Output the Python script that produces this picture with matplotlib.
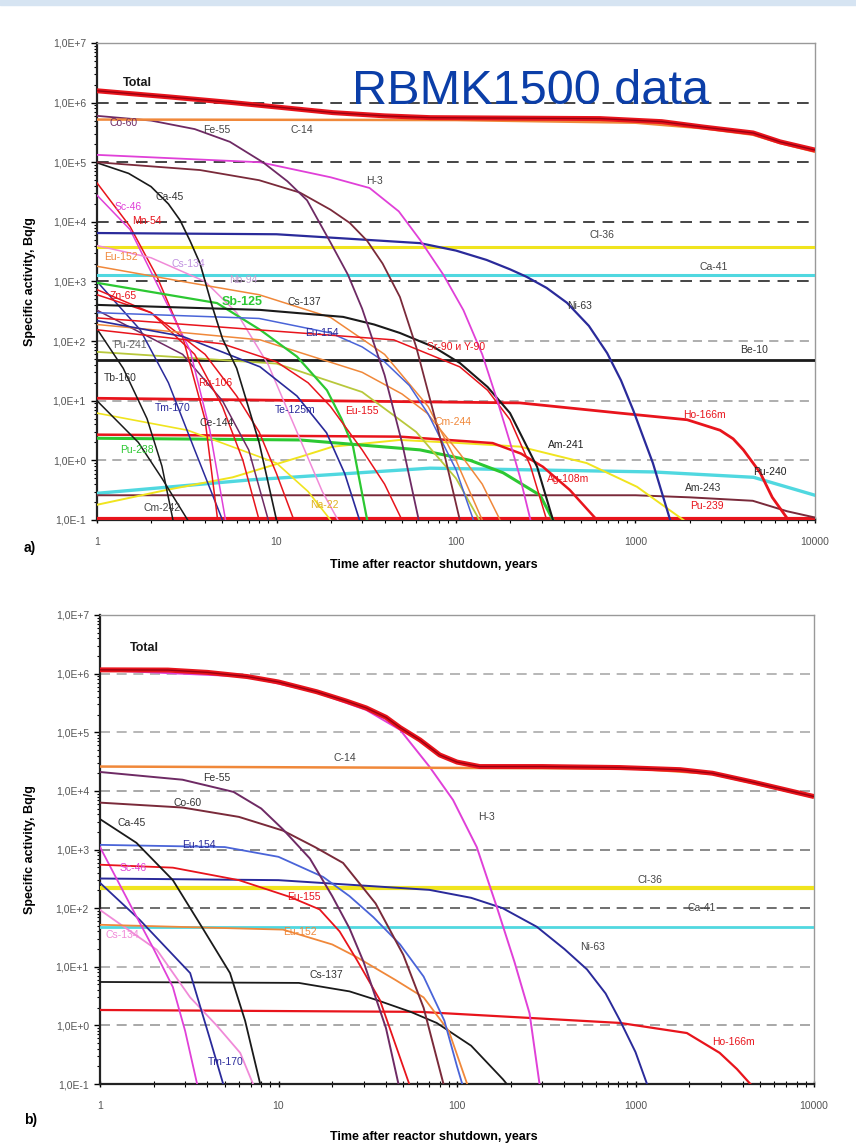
import matplotlib
matplotlib.use("Agg")
import matplotlib.pyplot as plt
from matplotlib.ticker import FixedLocator, LogLocator, NullFormatter

plt.rcParams['font.family'] = ['Liberation Sans', 'DejaVu Sans']

# ---------------- panel a) values ----------------
a_total_t = [1, 2.5, 5.7, 12, 20.6, 40, 72, 200, 633, 1400, 2377, 4520, 6383, 10000]
a_total_A = [1.58e6, 1.25e6, 1.0e6, 8.0e5, 6.8e5, 6.0e5, 5.6e5, 5.5e5, 5.4e5, 4.8e5,
             3.9e5, 3.1e5, 2.2e5, 1.6e5]
a_c14_t = [1, 100, 1000, 2400, 4500, 6400, 10000]
a_c14_A = [5.2e5, 5.1e5, 4.6e5, 3.7e5, 2.9e5, 2.1e5, 1.5e5]
a_fe55_t = [1, 2, 3.5, 5.5, 8.4, 11.5, 14.8, 20, 25, 30, 40, 50, 62]
a_fe55_A = [6e5, 5e5, 3.6e5, 2.2e5, 1e5, 4.8e4, 2.3e4, 4.5e3, 1.3e3, 3.5e2, 27, 2, 0.1]
a_h3_t = [1, 8.1, 20, 33, 48, 63, 85, 110, 140, 170, 200, 227, 260]
a_h3_A = [1.33e5, 1.0e5, 5.6e4, 3.7e4, 1.5e4, 5e3, 1.3e3, 330, 60, 10, 2, 0.53, 0.1]
a_co60_t = [1, 3.75, 8, 13.5, 20, 25.6, 32, 39, 48.7, 60, 72, 85, 105]
a_co60_A = [1e5, 7.4e4, 5e4, 3.1e4, 1.6e4, 9.6e3, 4.8e3, 2e3, 5.5e2, 80, 10, 1.5, 0.1]
a_ca45_t = [1, 1.5, 2, 2.5, 2.9, 3.3, 3.75, 4.4, 5, 6, 8, 10]
a_ca45_A = [9.8e4, 6.5e4, 3.9e4, 2.0e4, 1.07e4, 4.8e3, 2e3, 370, 110, 35, 2, 0.1]
a_ni63_t = [1, 10, 63, 100, 148, 200, 247, 320, 415, 550, 695, 830, 970, 1250, 1560]
a_ni63_A = [6.5e3, 6.2e3, 4.4e3, 3.3e3, 2.3e3, 1.6e3, 1.2e3, 780, 440, 180, 63, 22,
            7, 0.9, 0.1]
a_cl36_A = 3.8e3
a_ca41_A = 1.3e3
a_be10_A = 48
a_pu239_A = 0.105
a_cs137_t = [1, 8.1, 23.5, 35, 48.7, 75, 105, 150, 200, 283, 347]
a_cs137_A = [405, 334, 255, 190, 137, 80, 43, 17, 6.2, 0.78, 0.1]
a_ho166m_t = [1, 227, 820, 1940, 2960, 3500, 3990, 4950, 5780, 6950]
a_ho166m_A = [11, 9.2, 6.2, 4.8, 3.2, 2.3, 1.5, 0.62, 0.24, 0.11]
a_am241_t = [1, 2.45, 5.7, 13.5, 20.6, 48.7, 105, 227, 535, 1020, 1850]
a_am241_A = [0.18, 0.32, 0.52, 1.14, 1.7, 2.2, 1.95, 1.7, 0.9, 0.36, 0.1]
a_pu240_t = [1, 7.1, 71.6, 1250, 4550, 10000]
a_pu240_A = [0.28, 0.47, 0.74, 0.64, 0.52, 0.26]
a_am243_t = [1, 1000, 2000, 4500, 7000, 10000]
a_am243_A = [0.26, 0.26, 0.24, 0.21, 0.14, 0.11]
a_ag108m_t = [1, 48.7, 160, 230, 305, 430, 610]
a_ag108m_A = [2.7, 2.5, 1.95, 1.3, 0.78, 0.32, 0.1]
a_pu238_t = [1, 13.5, 63, 120, 183, 294, 347]
a_pu238_A = [2.35, 2.2, 1.5, 1.0, 0.62, 0.26, 0.1]
a_sr90_t = [1, 45, 105, 150, 200, 260, 320]
a_sr90_A = [245, 105, 37, 15, 4.8, 0.8, 0.1]
a_eu154_t = [1, 8, 20, 30, 40, 55, 70, 100, 125]
a_eu154_A = [300, 240, 137, 80, 45, 18, 6, 0.7, 0.1]
a_eu155_t = [1, 5, 10, 15, 20, 30, 40, 50]
a_eu155_A = [155, 90, 45, 20, 8, 1.5, 0.4, 0.1]
a_sb125_t = [1, 4.66, 8.1, 13, 19.1, 23, 26.7, 32]
a_sb125_A = [950, 435, 155, 55, 15, 5, 1.7, 0.1]
a_te125m_t = [1, 3, 8.1, 13, 19, 24, 29]
a_te125m_A = [220, 120, 37, 12, 2.9, 0.6, 0.1]
a_cm244_t = [1, 8.1, 30, 50, 69, 105, 140, 176]
a_cm244_A = [190, 105, 30, 13, 6.2, 1.3, 0.4, 0.1]
a_eu152_t = [1, 3, 8, 20, 40, 70, 100, 140]
a_eu152_A = [1.8e3, 1e3, 600, 250, 60, 8, 1, 0.1]
a_cs134_t = [1, 2, 4, 6, 9, 13, 18, 22]
a_cs134_A = [4e3, 2.5e3, 1e3, 300, 40, 3, 0.3, 0.1]
a_sc46_t = [1, 1.53, 2.24, 3.3, 4.25, 5.2]
a_sc46_A = [2.8e4, 7.4e3, 730, 70, 3.2, 0.1]
a_mn54_t = [1, 1.53, 2.16, 3.0, 4.0, 4.7]
a_mn54_A = [4.5e4, 8.3e3, 1.2e3, 118, 4.8, 0.1]
a_zn65_t = [1, 2, 3.5, 5, 6.5, 8]
a_zn65_A = [730, 300, 60, 8, 1, 0.1]
a_tb160_t = [1, 1.4, 1.9, 2.3, 2.65]
a_tb160_A = [160, 35, 5, 0.8, 0.1]
a_tm170_t = [1, 1.74, 2.5, 3.5, 5.0]
a_tm170_A = [1e3, 155, 20, 1.5, 0.1]
a_ce144_t = [1, 3, 5, 7, 9]
a_ce144_A = [330, 60, 10, 1.5, 0.1]
a_ru106_t = [1, 2, 4, 6, 8, 10, 12.5]
a_ru106_A = [600, 300, 60, 12, 3, 0.6, 0.1]
a_cm242_t = [1, 1.7, 2.3, 3.2]
a_cm242_A = [10, 2, 0.5, 0.1]
a_na22_t = [1, 3.2, 10, 15, 20]
a_na22_A = [6.2, 3.2, 0.9, 0.3, 0.1]
a_pu241_t = [1, 10, 30, 60, 100, 135]
a_pu241_A = [66, 42, 14, 3, 0.5, 0.1]

# ---------------- panel b) values ----------------
b_total_t = [1, 2.4, 4, 6.7, 10, 16.4, 24, 31, 40, 48, 62, 80, 100, 134, 300, 820,
             1780, 2700, 4600, 10000]
b_total_A = [1.16e6, 1.15e6, 1.05e6, 8.9e5, 7.2e5, 4.9e5, 3.4e5, 2.6e5, 1.8e5, 1.2e5,
             7.4e4, 4.1e4, 3.1e4, 2.6e4, 2.6e4, 2.5e4, 2.3e4, 2.0e4, 1.4e4, 8e3]
b_c14_t = [1, 1000, 2700, 4600, 10000]
b_c14_A = [2.6e4, 2.4e4, 1.95e4, 1.35e4, 7.8e3]
b_h3_t = [1, 6.7, 16, 31, 48, 70, 95, 129, 167, 210, 255, 290]
b_h3_A = [1.15e6, 8.9e5, 4.9e5, 2.4e5, 1.1e5, 2.6e4, 7e3, 1.1e3, 105, 12, 1.6, 0.1]
b_fe55_t = [1, 2.9, 5.6, 8, 10.6, 15, 20, 25, 30, 40, 47]
b_fe55_A = [2.1e4, 1.55e4, 9.6e3, 5e3, 2.2e3, 700, 160, 45, 12, 0.9, 0.1]
b_co60_t = [1, 2.9, 6, 10.6, 16, 23, 35, 50, 65, 84]
b_co60_A = [6.3e3, 5.2e3, 3.6e3, 2.1e3, 1.1e3, 590, 120, 16, 2, 0.1]
b_ca45_t = [1, 1.6, 2.56, 3.8, 5.35, 6.5, 7.9]
b_ca45_A = [3.3e3, 1.3e3, 300, 43, 7.8, 1.2, 0.1]
b_eu154_t = [1, 5, 10, 17.8, 25, 34, 48, 65, 85, 100, 107]
b_eu154_A = [1.2e3, 1.1e3, 750, 340, 160, 70, 24, 6.8, 1.2, 0.2, 0.1]
b_eu155_t = [1, 2.56, 6, 11.6, 17, 22, 27.5, 37, 54]
b_eu155_A = [550, 490, 300, 155, 95, 40, 13, 2.7, 0.1]
b_sc46_t = [1, 1.53, 2.0, 2.56, 3.0, 3.5]
b_sc46_A = [1.1e3, 93, 20, 4.5, 0.8, 0.1]
b_ni63_t = [1, 10, 70, 120, 180, 280, 400, 535, 680, 820, 1000, 1160]
b_ni63_A = [320, 300, 205, 150, 100, 48, 20, 9, 3.5, 1.2, 0.35, 0.1]
b_cl36_A = 220
b_ca41_A = 48
b_eu152_t = [1, 10.6, 20, 27, 45, 65, 90, 114]
b_eu152_A = [52, 43, 24, 15, 6, 3, 0.8, 0.1]
b_cs134_t = [1, 2.08, 3.2, 4.5, 6.1, 7.2]
b_cs134_A = [93, 19.5, 3, 1.0, 0.34, 0.1]
b_cs137_t = [1, 13, 25, 35.6, 55, 77, 120, 181, 190]
b_cs137_A = [5.5, 5.3, 3.8, 2.7, 1.7, 1.1, 0.45, 0.12, 0.1]
b_ho166m_t = [1, 62, 820, 1940, 2960, 3700, 4400]
b_ho166m_A = [1.83, 1.7, 1.1, 0.74, 0.34, 0.18, 0.1]
b_tm170_t = [1, 1.67, 3.2, 4.1, 4.9]
b_tm170_A = [270, 63, 7.8, 0.63, 0.1]

decades = [1e-1, 1e0, 1e1, 1e2, 1e3, 1e4, 1e5, 1e6, 1e7]
decade_labels = ['1,0E-1', '1,0E+0', '1,0E+1', '1,0E+2', '1,0E+3', '1,0E+4',
                 '1,0E+5', '1,0E+6', '1,0E+7']
x_ticks = [1, 10, 100, 1000, 10000]
x_labels = ['1', '10', '100', '1000', '10000']

RED = '#e8141c'
MAG = '#e040d8'
PINK = '#f08ad8'
NAVY = '#2a2a9a'
BLUE = '#4a64d8'
BLK = '#1a1a1a'
GRN = '#2cc832'
ORG = '#f0883a'
YEL = '#f0e41e'
CYN = '#50d8e0'
OLV = '#b8c83c'
PUR = '#6e2a64'
BRN = '#7a2a3a'
XMAX = 10000

W, H = 856, 1145
BOX_A = (97, 815, 43, 520)
BOX_B = (100, 814, 615, 1084)


def flat(v):
    return [1, XMAX], [v, v]


curves_a = [
    (flat(a_cl36_A), YEL, 2.2),
    (flat(a_ca41_A), CYN, 2.2),
    (flat(a_be10_A), BLK, 2.0),
    (flat(a_pu239_A), RED, 3.0),
    ((a_pu240_t, a_pu240_A), CYN, 2.4),
    ((a_am243_t, a_am243_A), BRN, 1.4),
    ((a_am241_t, a_am241_A), YEL, 1.4),
    ((a_ag108m_t, a_ag108m_A), RED, 1.8),
    ((a_pu238_t, a_pu238_A), GRN, 2.2),
    ((a_ho166m_t, a_ho166m_A), RED, 2.0),
    ((a_na22_t, a_na22_A), YEL, 1.2),
    ((a_pu241_t, a_pu241_A), OLV, 1.3),
    ((a_cm242_t, a_cm242_A), BLK, 1.1),
    ((a_tb160_t, a_tb160_A), BLK, 1.1),
    ((a_tm170_t, a_tm170_A), NAVY, 1.1),
    ((a_ce144_t, a_ce144_A), PUR, 1.1),
    ((a_ru106_t, a_ru106_A), RED, 1.1),
    ((a_zn65_t, a_zn65_A), RED, 1.1),
    ((a_mn54_t, a_mn54_A), RED, 1.1),
    ((a_sc46_t, a_sc46_A), MAG, 1.1),
    ((a_cs134_t, a_cs134_A), PINK, 1.1),
    ((a_eu152_t, a_eu152_A), ORG, 1.1),
    ((a_cm244_t, a_cm244_A), ORG, 1.1),
    ((a_te125m_t, a_te125m_A), NAVY, 1.2),
    ((a_sb125_t, a_sb125_A), GRN, 1.6),
    ((a_eu155_t, a_eu155_A), RED, 1.1),
    ((a_eu154_t, a_eu154_A), BLUE, 1.1),
    ((a_sr90_t, a_sr90_A), RED, 1.1),
    ((a_cs137_t, a_cs137_A), BLK, 1.5),
    ((a_ni63_t, a_ni63_A), NAVY, 1.6),
    ((a_ca45_t, a_ca45_A), BLK, 1.2),
    ((a_co60_t, a_co60_A), BRN, 1.3),
    ((a_h3_t, a_h3_A), MAG, 1.3),
    ((a_fe55_t, a_fe55_A), PUR, 1.3),
    ((a_c14_t, a_c14_A), ORG, 1.8),
]

curves_b = [
    (flat(b_cl36_A), YEL, 3.0),
    (flat(b_ca41_A), CYN, 2.0),
    ((b_ho166m_t, b_ho166m_A), RED, 1.6),
    ((b_cs137_t, b_cs137_A), BLK, 1.3),
    ((b_cs134_t, b_cs134_A), PINK, 1.3),
    ((b_eu152_t, b_eu152_A), ORG, 1.3),
    ((b_ni63_t, b_ni63_A), NAVY, 1.4),
    ((b_tm170_t, b_tm170_A), NAVY, 1.3),
    ((b_sc46_t, b_sc46_A), MAG, 1.3),
    ((b_eu155_t, b_eu155_A), RED, 1.3),
    ((b_eu154_t, b_eu154_A), BLUE, 1.3),
    ((b_ca45_t, b_ca45_A), BLK, 1.3),
    ((b_co60_t, b_co60_A), BRN, 1.4),
    ((b_fe55_t, b_fe55_A), PUR, 1.4),
    ((b_h3_t, b_h3_A), MAG, 1.4),
    ((b_c14_t, b_c14_A), ORG, 1.8),
]

labels_a = [
    ('Total', 123, 83, BLK, True),
    ('Fe-55', 203, 130, '#444', False), ('C-14', 291, 130, '#444', False),
    ('Co-60', 110, 123, PUR, False), ('H-3', 366, 181, '#444', False),
    ('Ca-45', 155, 197, '#333', False), ('Sc-46', 115, 207, MAG, False),
    ('Mn-54', 132, 221, RED, False), ('Cl-36', 590, 235, '#444', False),
    ('Ca-41', 700, 267, '#444', False), ('Eu-152', 104, 257, ORG, False),
    ('Cs-134', 172, 264, '#c090e0', False), ('Nb-94', 229, 280, '#c0a0d0', False),
    ('Zn-65', 110, 296, RED, False), ('Sb-125', 222, 302, GRN, True),
    ('Cs-137', 287, 302, '#333', False), ('Ni-63', 567, 306, '#333', False),
    ('Eu-154', 305, 333, NAVY, False), ('Pu-241', 113, 345, '#666', False),
    ('Sr-90 и Y-90', 427, 347, RED, False), ('Be-10', 740, 350, '#333', False),
    ('Tb-160', 104, 378, '#333', False), ('Ru-106', 198, 383, RED, False),
    ('Tm-170', 155, 408, NAVY, False), ('Ce-144', 200, 423, '#333', False),
    ('Te-125m', 275, 410, NAVY, False), ('Eu-155', 345, 411, RED, False),
    ('Cm-244', 435, 422, ORG, False), ('Ho-166m', 683, 415, RED, False),
    ('Pu-238', 120, 450, GRN, False), ('Am-241', 548, 445, '#222', False),
    ('Pu-240', 753, 472, '#222', False), ('Ag-108m', 547, 479, RED, False),
    ('Am-243', 685, 488, '#333', False), ('Pu-239', 690, 506, RED, False),
    ('Cm-242', 143, 508, '#444', False), ('Na-22', 310, 505, '#e0b020', False),
]

labels_b = [
    ('Total', 130, 648, BLK, True),
    ('C-14', 333, 758, '#444', False), ('H-3', 478, 817, '#444', False),
    ('Fe-55', 203, 778, '#333', False), ('Co-60', 173, 803, '#333', False),
    ('Ca-45', 117, 823, '#333', False), ('Eu-154', 182, 845, NAVY, False),
    ('Sc-46', 120, 868, MAG, False), ('Eu-155', 287, 897, RED, False),
    ('Cl-36', 637, 880, '#444', False), ('Ca-41', 688, 908, '#444', False),
    ('Eu-152', 283, 932, ORG, False), ('Cs-134', 105, 935, PINK, False),
    ('Ni-63', 580, 947, '#444', False), ('Cs-137', 310, 975, '#333', False),
    ('Tm-170', 208, 1062, NAVY, False), ('Ho-166m', 712, 1042, RED, False),
]


def make_axes(fig, box):
    l, r, t, b = box
    return fig.add_axes([l / W, 1 - b / H, (r - l) / W, (b - t) / H])


def style_axes(ax):
    ax.set_xscale('log')
    ax.set_yscale('log')
    ax.set_xlim(1, XMAX)
    ax.set_ylim(0.1, 1e7)
    ax.yaxis.set_major_locator(FixedLocator(decades))
    ax.set_yticklabels(decade_labels, fontsize=7.5, color='#555')
    ax.xaxis.set_major_locator(FixedLocator(x_ticks))
    ax.set_xticklabels(x_labels, fontsize=7.5, color='#555')
    ax.yaxis.set_minor_locator(LogLocator(base=10, subs=range(2, 10), numticks=20))
    ax.xaxis.set_minor_locator(LogLocator(base=10, subs=range(2, 10), numticks=20))
    ax.yaxis.set_minor_formatter(NullFormatter())
    ax.xaxis.set_minor_formatter(NullFormatter())
    ax.tick_params(axis='y', which='major', length=4, width=1, direction='out', pad=4)
    ax.tick_params(axis='y', which='minor', length=2, width=0.8, direction='out')
    ax.tick_params(axis='x', which='major', length=5, width=1, direction='inout', pad=10)
    ax.tick_params(axis='x', which='minor', length=4, width=0.8, direction='inout')
    for s in ('top', 'right'):
        ax.spines[s].set_color('#999')
        ax.spines[s].set_linewidth(1.0)
    for s in ('left', 'bottom'):
        ax.spines[s].set_color('#222')
        ax.spines[s].set_linewidth(1.6)


def put_labels(ax, box, labels):
    l, r, t, b = box
    for name, px, py, col, bold in labels:
        ax.text((px - l) / (r - l), (b - py) / (b - t), name, transform=ax.transAxes,
                fontsize=9 if bold else 7.5, color=col,
                fontweight='bold' if bold else 'normal', va='center', ha='left',
                zorder=10)


def draw_total(ax, t, A):
    ax.plot(t, A, color=RED, lw=3.6, solid_capstyle='butt', zorder=6)
    ax.plot(t, A, color='#9a0010', lw=1.0, zorder=7)


fig = plt.figure(figsize=(W / 100, H / 100), dpi=100)
fig.patches.append(plt.Rectangle((0, 1 - 5 / H), 1, 5 / H, transform=fig.transFigure,
                                 color='#d6e4f2', zorder=0))

# panel a
ax1 = make_axes(fig, BOX_A)
style_axes(ax1)
for d in decades[1:-1]:
    dark = d >= 1e3
    ax1.axhline(d, color='#444' if dark else '#999', lw=1.4 if dark else 1.1,
                ls=(0, (6, 4)), zorder=1)
for (t, A), col, lw in curves_a:
    ax1.plot(t, A, color=col, lw=lw, zorder=3)
draw_total(ax1, a_total_t, a_total_A)
put_labels(ax1, BOX_A, labels_a)

# panel b
ax2 = make_axes(fig, BOX_B)
style_axes(ax2)
grid_b_col = {1e0: '#999', 1e1: '#aaa', 1e2: '#555', 1e3: '#777', 1e4: '#999',
              1e5: '#aaa', 1e6: '#aaa'}
for d in decades[1:-1]:
    ax2.axhline(d, color=grid_b_col[d], lw=1.2, ls=(0, (6, 4)), zorder=1)
for (t, A), col, lw in curves_b:
    ax2.plot(t, A, color=col, lw=lw, zorder=3)
draw_total(ax2, b_total_t, b_total_A)
put_labels(ax2, BOX_B, labels_b)

# texts
fig.text(352 / W, 1 - 104 / H, 'RBMK1500 data', fontsize=35, color='#0b3ea8',
         va='baseline', ha='left')
for yc in ((43 + 520) / 2, (615 + 1084) / 2):
    fig.text(30 / W, 1 - yc / H, 'Specific activity, Bq/g', rotation=90,
             fontsize=9, fontweight='bold', ha='center', va='center')
fig.text(434 / W, 1 - 565 / H, 'Time after reactor shutdown, years', fontsize=9,
         fontweight='bold', ha='center', va='center')
fig.text(434 / W, 1 - 1137 / H, 'Time after reactor shutdown, years', fontsize=9,
         fontweight='bold', ha='center', va='center')
fig.text(24 / W, 1 - 548 / H, 'a)', fontsize=10, fontweight='bold', va='center')
fig.text(24 / W, 1 - 1120 / H, 'b)', fontsize=10, fontweight='bold', va='center')

fig.savefig('out.png', dpi=100)
